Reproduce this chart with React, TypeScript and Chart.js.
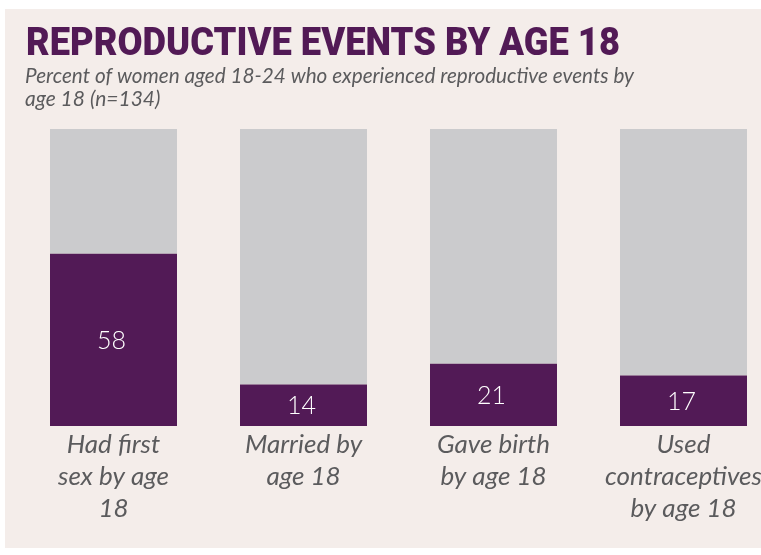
import React, { useEffect, useRef } from "react";
import { Chart, registerables } from "chart.js";

Chart.register(...registerables);

const categories: string[][] = [
  ["Had first", "sex by age", "18"],
  ["Married by", "age 18"],
  ["Gave birth", "by age 18"],
  ["Used", "contraceptives", "by age 18"],
];
const experienced: number[] = [58, 14, 21, 17];
const remainder: number[] = [42, 86, 79, 83];

const TITLE = "REPRODUCTIVE EVENTS BY AGE 18";
const SUBTITLE_LINES = [
  "Percent of women aged 18-24 who experienced reproductive events by",
  "age 18 (n=134)",
];

const PURPLE = "#521a56";
const GRAY = "#cbcbcd";
const PANEL = "#f4edea";
const TEXT_GRAY = "#5b5b5d";

const CANVAS_W = 790;
const CANVAS_H = 555;

export default function App() {
  const ref = useRef<HTMLCanvasElement | null>(null);

  useEffect(() => {
    document.body.style.margin = "0";
    const canvas = ref.current;
    if (!canvas) return;

    const textPlugin = {
      id: "textPlugin",
      beforeDraw(chart: any) {
        const ctx = chart.ctx;
        ctx.save();
        ctx.fillStyle = PURPLE;
        ctx.font = "900 39px Roboto";
        ctx.textBaseline = "alphabetic";
        ctx.textAlign = "left";
        ctx.fillText(TITLE, 26, 55, 594);
        ctx.fillStyle = TEXT_GRAY;
        ctx.font = "italic 400 21px Lato";
        ctx.fillText(SUBTITLE_LINES[0], 25, 83, 609);
        ctx.fillText(SUBTITLE_LINES[1], 25, 106, 609);
        ctx.restore();
      },
      afterDatasetsDraw(chart: any) {
        const ctx = chart.ctx;
        const meta = chart.getDatasetMeta(0);
        ctx.save();
        ctx.fillStyle = "#ffffff";
        ctx.font = "300 25px Lato";
        ctx.textAlign = "center";
        ctx.textBaseline = "middle";
        meta.data.forEach((el: any, i: number) => {
          const y = (el.y + el.base) / 2;
          ctx.fillText(String(experienced[i]), el.x - 2, y + 1);
        });
        ctx.restore();
      },
    };

    const chart = new Chart(canvas, {
      type: "bar",
      data: {
        labels: categories,
        datasets: [
          {
            data: experienced,
            backgroundColor: PURPLE,
            borderWidth: 0,
            barPercentage: 1,
            categoryPercentage: 127 / 190,
          },
          {
            data: remainder,
            backgroundColor: GRAY,
            borderWidth: 0,
            barPercentage: 1,
            categoryPercentage: 127 / 190,
          },
        ],
      },
      options: {
        responsive: false,
        animation: false,
        devicePixelRatio: 1,
        layout: {
          padding: { top: 129, left: 18.5, right: CANVAS_W - 778.5, bottom: 0 },
        },
        plugins: {
          legend: { display: false },
          tooltip: { enabled: false },
          title: { display: false },
        },
        scales: {
          x: {
            stacked: true,
            grid: { display: false, drawTicks: false },
            border: { display: false },
            ticks: {
              padding: 3,
              color: TEXT_GRAY,
              maxRotation: 0,
              autoSkip: false,
              font: { family: "Lato", style: "italic", size: 26, lineHeight: 32 / 26 },
            },
            afterFit: (scale: any) => {
              scale.height = CANVAS_H - 426;
            },
          },
          y: {
            stacked: true,
            display: false,
            min: 0,
            max: 100,
          },
        },
      },
      plugins: [textPlugin],
    });

    return () => chart.destroy();
  }, []);

  return (
    <div
      style={{
        position: "fixed",
        left: 0,
        top: 0,
        width: 761,
        height: 555,
        overflow: "hidden",
        background: "#ffffff",
      }}
    >
      <div
        style={{
          position: "absolute",
          left: 5,
          top: 9,
          width: 756,
          height: 539,
          background: PANEL,
        }}
      />
      <canvas
        ref={ref}
        width={CANVAS_W}
        height={CANVAS_H}
        style={{ position: "absolute", left: 0, top: 0, width: CANVAS_W, height: CANVAS_H }}
      />
    </div>
  );
}
